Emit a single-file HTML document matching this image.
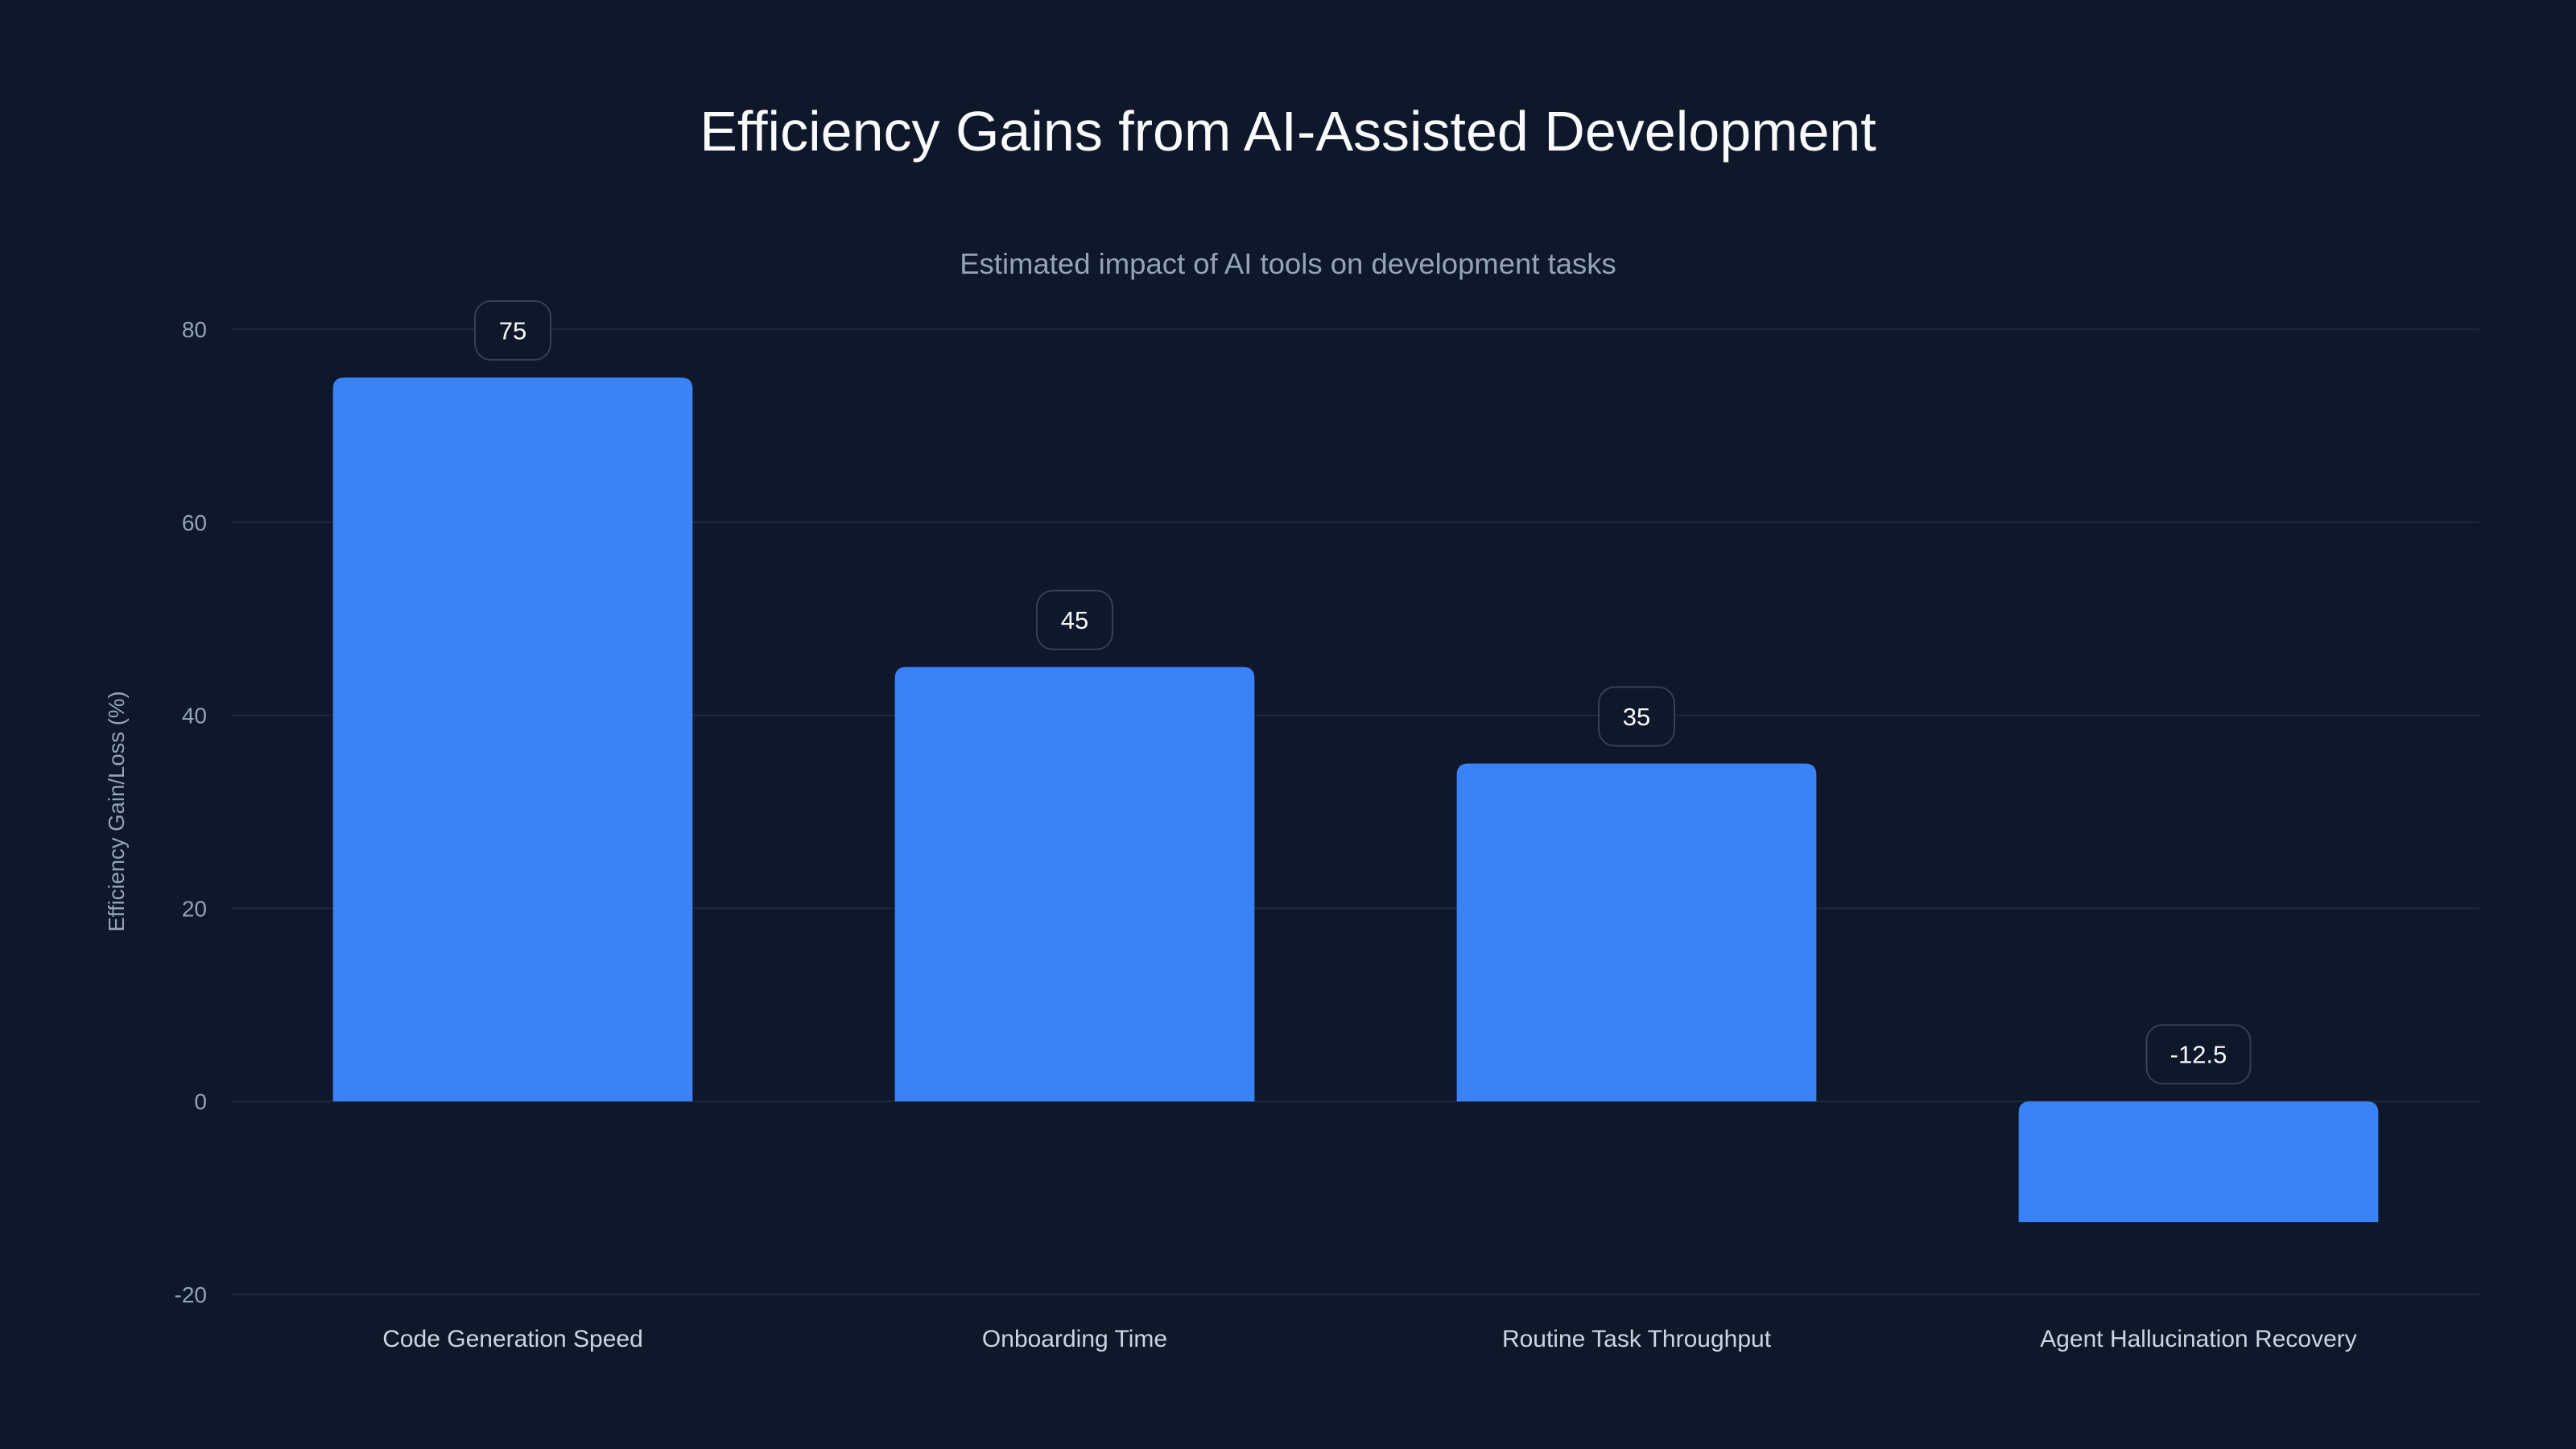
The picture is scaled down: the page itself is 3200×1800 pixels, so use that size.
<!DOCTYPE html>
<html><head><meta charset="utf-8"><style>
html,body{margin:0;padding:0;background:#0f172a;}
svg{display:block;font-family:"Liberation Sans",sans-serif;}
</style></head><body>
<svg id="chart" width="3200" height="1800" viewBox="0 0 3200 1800">
<rect x="0" y="0" width="3200" height="1800" fill="#0f172a"/>
<text x="1600" y="187" text-anchor="middle" font-size="70" fill="#f8fafc">Efficiency Gains from AI-Assisted Development</text>
<text x="1600" y="340" text-anchor="middle" font-size="36.5" fill="#94a3b8">Estimated impact of AI tools on development tasks</text>
<text transform="translate(154,1008) rotate(-90)" text-anchor="middle" font-size="27.5" fill="#94a3b8">Efficiency Gain/Loss (%)</text>
<g id="grid"></g><g id="bars"></g><g id="labels"></g>
</svg>
<script>
const categories = ["Code Generation Speed","Onboarding Time","Routine Task Throughput","Agent Hallucination Recovery"];
const values = [75, 45, 35, -12.5];
const valueLabels = ["75","45","35","-12.5"];
const yTicks = [-20, 0, 20, 40, 60, 80];

const NS = "http://www.w3.org/2000/svg";
const plotL = 288, plotR = 3080, yMin = -20, yMax = 80, yTop = 409, yBot = 1608;
const y = v => yBot - (v - yMin) / (yMax - yMin) * (yBot - yTop);
const band = (plotR - plotL) / categories.length;
const x = i => plotL + band * (i + 0.5);
const barW = band * 0.64;
function mk(tag, attrs, parent){const e=document.createElementNS(NS,tag);for(const k in attrs)e.setAttribute(k,attrs[k]);parent.appendChild(e);return e;}
const grid=document.getElementById('grid'), bars=document.getElementById('bars'), labels=document.getElementById('labels');

yTicks.forEach(t=>{
  const l=mk('line',{x1:plotL,x2:plotR,y1:y(t),y2:y(t),stroke:'#1e293b','stroke-width':2},grid);
  
  
  const tx=mk('text',{x:257,y:y(t)+10,'text-anchor':'end','font-size':28,fill:'#94a3b8'},grid);
  tx.textContent=String(t);
  
  
});

values.forEach((v,i)=>{
  const cx=x(i), x0=cx-barW/2, top=Math.min(y(v),y(0)), bot=Math.max(y(v),y(0)), r=14;
  const d=`M${x0},${bot} L${x0},${top+r} Q${x0},${top} ${x0+r},${top} L${x0+barW-r},${top} Q${x0+barW},${top} ${x0+barW},${top+r} L${x0+barW},${bot} Z`;
  const b=mk('path',{d:d,fill:'#3b82f6'},bars);
  
  
  const lblTxt=valueLabels[i];
  const bw=lblTxt.length>3?129:94, bh=73;
  const by=Math.min(y(v),y(0))-22-bh;
  const g=mk('g',{},labels);
  
  
  mk('rect',{x:cx-bw/2,y:by,width:bw,height:bh,rx:20,fill:'#0f172a',stroke:'#334155','stroke-width':2},g);
  const t=mk('text',{x:cx,y:by+bh/2+11,'text-anchor':'middle','font-size':31,fill:'#f8fafc'},g);
  t.textContent=lblTxt;
  const c=mk('text',{x:cx,y:1673,'text-anchor':'middle','font-size':30,fill:'#cbd5e1'},labels);
  c.textContent=categories[i];
  
  
});
</script>
</body></html>
